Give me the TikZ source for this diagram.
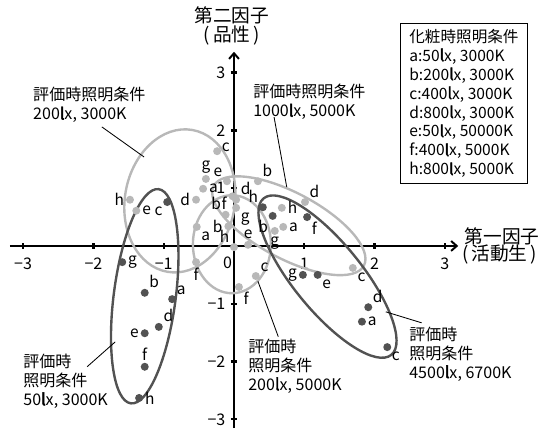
\documentclass[tikz,border=0pt]{standalone}
\usepackage{fontspec}
\setmainfont{Noto Sans CJK JP}[AutoFakeBold=3]
\usetikzlibrary{arrows.meta}

\definecolor{lgray}{gray}{0.72}
\definecolor{dgray}{gray}{0.32}

\newcommand{\lx}{\textbf{l}x}

\tikzset{
  ldot/.style={circle,fill=lgray,inner sep=0pt,minimum size=0.2cm},
  ddot/.style={circle,fill=dgray,inner sep=0pt,minimum size=0.2cm},
  every label/.style={font=\fontsize{11}{11}\selectfont,inner sep=1pt},
  lring/.style={draw=lgray,line width=1.7pt},
  dring/.style={draw=dgray,line width=1.7pt},
  leader/.style={line width=0.6pt},
  cond/.style={align=left,anchor=north west,inner sep=0pt,font=\fontsize{11.4}{13.3}\selectfont},
  tick/.style={font=\fontsize{11.4}{12}\selectfont,inner sep=0pt},
  axis/.style={line width=1.4pt,-{Straight Barb[length=4pt,width=7pt]}},
}

\begin{document}
\begin{tikzpicture}[x=1.7575cm,y=1.445cm]
  \useasboundingbox (-3.329,-3.201) rectangle (4.481,4.256);

  %axes
  \draw[axis] (-3.19,0) -- (3.19,0);
  \draw[axis] (0,-3.15) -- (0,3.36);
  \foreach \i/\t in {-3/−3,-2/−2,-1/−1,1/1,2/2,3/3}{
    \draw[line width=1.6pt] (\i,-0.05) -- (\i,0.05);
    \draw[line width=1.6pt] (-0.045,\i) -- (0.045,\i);
    \node[tick] (xt\i) at (\i,-0.31) {\t};
    \node[tick,anchor=east] (yt\i) at (-0.12,\i) {\t};
  }
  \node[tick] (zero) at (-0.09,-0.29) {0};

  %axis titles
  \node[font=\fontsize{13.3}{14}\selectfont,inner sep=0pt] (f2) at (-0.03,3.99) {第二因子};
  \node[font=\fontsize{13.3}{14}\selectfont,inner sep=0pt] (f2b) at (-0.03,3.65) {(\,品性\,)};
  \node[font=\fontsize{13.3}{14}\selectfont,inner sep=0pt,anchor=west] (f1) at (3.28,0.17) {第一因子};
  \node[font=\fontsize{13.3}{14}\selectfont,inner sep=0pt,anchor=west] (f1b) at (3.24,-0.14) {(\,活動生\,)};

  %ellipses
  \draw[lring] (-0.77,0.78) circle [x radius=1.8cm,y radius=1.375cm,rotate=80];
  \draw[lring] (0.78,0.35) circle [x radius=2.125cm,y radius=0.825cm,rotate=-28];
  \draw[lring] (-0.03,0.03) circle [x radius=0.975cm,y radius=1.225cm];
  \draw[dring] (-1.27,-0.87) circle [x radius=2.7cm,y radius=0.775cm,rotate=82.6];
  \draw[dring] (1.33,-0.53) circle [x radius=2.525cm,y radius=0.85cm,rotate=-50.8];

  %200lx 3000K
  \node[ldot,label=left:h] (Ah) at (-1.48,0.80) {};
  \node[ldot,label=right:e] (Ae) at (-1.39,0.61) {};
  \node[ldot,label={[yshift=-4pt]above right:c}] (Ac) at (-0.24,1.64) {};
  \node[ldot,label=above:g] (Ag) at (-0.40,1.16) {};
  \node[ldot,label=right:a] (Aa) at (-0.44,0.99) {};
  \node[ldot,label=left:d] (Ad) at (-0.54,0.80) {};
  \node[ldot,label=below:f] (Af) at (-0.54,-0.28) {};
  \node[ldot,label=left:b] (Ab) at (-0.08,0.34) {};

  %200lx 5000K
  \node[ldot,label=below right:f] (Cf) at (0.07,-0.71) {};
  \node[ldot,label=above right:c] (Cc) at (0.31,-0.52) {};
  \node[ldot,label=above left:h] (Ch) at (0.0,-0.02) {};
  \node[ldot,label=below right:a] (Ca) at (-0.53,0.33) {};
  \node[ldot,label=above left:b] (Cb) at (-0.12,0.54) {};
  \node[ldot,label=below right:g] (Cg) at (0.03,0.66) {};
  \node[ldot,label=above right:d] (Cd) at (0.03,0.80) {};
  \node[ldot,label=above:e] (Ce) at (0.20,0.02) {};

  %1000lx 5000K
  \node[ldot,label=above right:b] (Bb) at (0.34,1.12) {};
  \node[ldot,label=right:h] (Bh) at (0.68,0.66) {};
  \node[ldot,label=above right:d] (Bd) at (1.01,0.76) {};
  \node[ldot,label=right:a] (Ba) at (0.70,0.33) {};
  \node[ldot,label=below:g] (Bg) at (0.58,0.26) {};
  \node[ldot,label=below right:c] (Bc) at (1.69,-0.38) {};
  \node[ldot,label=above left:e] (Be) at (-0.10,1.12) {};
  \node[ldot,label={[yshift=-5pt]left:f}] (Bf) at (-0.02,0.86) {};

  %50lx 3000K
  \node[ddot,label=below left:c] (Dc) at (-0.95,0.76) {};
  \node[ddot,label=right:g] (Dg) at (-1.59,-0.28) {};
  \node[ddot,label=above right:b] (Db) at (-1.27,-0.81) {};
  \node[ddot,label=above right:a] (Da) at (-0.88,-0.92) {};
  \node[ddot,label=above right:d] (Dd) at (-1.07,-1.40) {};
  \node[ddot,label=left:e] (De) at (-1.27,-1.51) {};
  \node[ddot,label=above:f] (Df) at (-1.27,-2.09) {};
  \node[ddot,label=right:h] (Dh) at (-1.35,-2.63) {};

  %4500lx 6700K
  \node[ddot,label=above left:h] (Eh) at (0.41,0.67) {};
  \node[ddot,label=below left:b] (Eb) at (0.55,0.52) {};
  \node[ddot,label=below right:f] (Ef) at (1.04,0.50) {};
  \node[ddot,label=left:g] (Eg) at (0.98,-0.50) {};
  \node[ddot,label=below right:e] (Ee) at (1.19,-0.50) {};
  \node[ddot,label=above right:d] (Ed) at (1.91,-1.06) {};
  \node[ddot,label=right:a] (Ea) at (1.82,-1.31) {};
  \node[ddot,label=below right:c] (Ec) at (2.18,-1.75) {};

  %condition labels
  \node[cond] (tA) at (-2.86,2.75) {評価時照明条件\\200\lx, 3000K};
  \node[cond] (tB) at (0.27,2.80) {評価時照明条件\\1000\lx, 5000K};
  \node[cond] (tC) at (0.20,-1.61) {評価時\\照明条件\\200\lx, 5000K};
  \node[cond] (tD) at (-3.0,-1.87) {評価時\\照明条件\\50\lx, 3000K};
  \node[cond] (tE) at (2.49,-1.40) {評価時\\照明条件\\4500\lx, 6700K};

  %leaders
  \coordinate (pA) at (-1.28,1.54);
  \coordinate (qA) at (-1.88,2.06);
  \coordinate (pB) at (0.75,1.02);
  \coordinate (qB) at (0.57,2.23);
  \coordinate (pC) at (0.34,-0.61);
  \coordinate (qC) at (0.63,-1.57);
  \coordinate (pD) at (-1.69,-1.66);
  \coordinate (qD) at (-2.09,-2.09);
  \coordinate (pE) at (2.16,-1.14);
  \coordinate (qE) at (2.67,-1.33);
  \draw[leader] (qA) -- (pA);
  \draw[leader] (qB) -- (pB);
  \draw[leader] (qC) -- (pC);
  \draw[leader] (qD) -- (pD);
  \draw[leader] (qE) -- (pE);

  %legend
  \node[draw,line width=0.8pt,anchor=north west,minimum width=3.175cm,minimum height=4cm,
        align=left,font=\fontsize{11.1}{13.5}\selectfont] (legend) at (2.36,3.86)
    {化粧時照明条件\\a:50\lx, 3000K\\b:200\lx, 3000K\\c:400\lx, 3000K\\d:800\lx, 3000K\\e:50\lx, 50000K\\f:400\lx, 5000K\\h:800\lx, 5000K};
\end{tikzpicture}
\end{document}
